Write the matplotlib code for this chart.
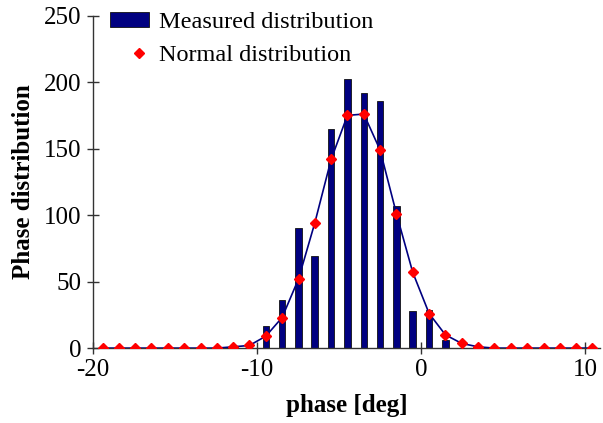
import matplotlib
matplotlib.use("Agg")
import matplotlib.pyplot as plt
from matplotlib.patches import Patch
from matplotlib.lines import Line2D
from matplotlib.legend_handler import HandlerLine2D

# phase bin centres [deg]
phase = [-19.41, -18.42, -17.42, -16.43, -15.43, -14.44, -13.44, -12.45,
         -11.45, -10.46, -9.46, -8.47, -7.47, -6.48, -5.48, -4.49, -3.49,
         -2.50, -1.50, -0.51, 0.49, 1.48, 2.48, 3.47, 4.47, 5.46, 6.46,
         7.47, 8.47, 9.46, 10.43]

measured = [0, 0, 0, 0, 0, 0, 0, 0,
            0, 0, 17, 36, 90, 69, 165, 202, 192,
            186, 107, 28, 29, 6, 0, 0, 0, 0, 0,
            0, 0, 0, 0]

normal = [0, 0, 0, 0, 0, 0, 0, 0,
          1, 2, 9, 23, 52, 94, 142, 175, 176,
          149, 101, 57, 26, 10, 3.5, 1, 0, 0, 0,
          0, 0, 0, 0]

xticks = [-20, -10, 0, 10]
yticks = [0, 50, 100, 150, 200, 250]


# legend marker sits towards the right of the handle box
class RightMarker(HandlerLine2D):
    def get_xdata(self, legend, xdescent, ydescent, width, height, fontsize):
        x = -xdescent + 0.75 * width
        return [x], [x]


plt.rcParams["font.family"] = ["Liberation Serif", "DejaVu Serif"]
plt.rcParams["axes.unicode_minus"] = False

fig = plt.figure(figsize=(6.03, 4.23), dpi=100)
ax = fig.add_axes([0.154, 0.177, 0.841, 0.786])

ax.bar(phase, measured, width=0.4, color="#000080", edgecolor="#111111",
       linewidth=0.6, zorder=2)
ax.plot(phase, normal, color="#000080", linewidth=1.2, zorder=3)
ax.plot(phase, normal, linestyle="none", marker="D", markersize=5.4,
        color="red", zorder=4)

ax.set_xlim(-20, 10.9)
ax.set_ylim(0, 250)
ax.set_xticks(xticks)
ax.set_yticks(yticks)
ax.tick_params(direction="inout", length=9, width=1.0, labelsize=18,
               colors="#333333", labelcolor="black")
ax.tick_params(axis="x", pad=3)
ax.tick_params(axis="y", pad=4)

for s in ["top", "right"]:
    ax.spines[s].set_visible(False)
for s in ["left", "bottom"]:
    ax.spines[s].set_color("#333333")
    ax.spines[s].set_linewidth(1.0)

ax.set_xlabel("phase [deg]", fontsize=18, fontweight="bold", labelpad=10)
ax.set_ylabel("Phase distribution", fontsize=18, fontweight="bold", labelpad=6)

norm_handle = Line2D([], [], linestyle="none", marker="D", markersize=4.8, color="red")
handles = [Patch(facecolor="#000080", edgecolor="#111111", linewidth=0.6),
           norm_handle]
fig.legend(handles, ["Measured distribution", "Normal distribution"],
           loc="upper left", bbox_to_anchor=(110 / 603, 1 - 12 / 423),
           frameon=False, fontsize=17.5, borderpad=0, borderaxespad=0,
           handlelength=1.6, handleheight=0.6, handletextpad=0.4,
           labelspacing=0.48, handler_map={norm_handle: RightMarker()})

fig.savefig("out.png", dpi=100)
